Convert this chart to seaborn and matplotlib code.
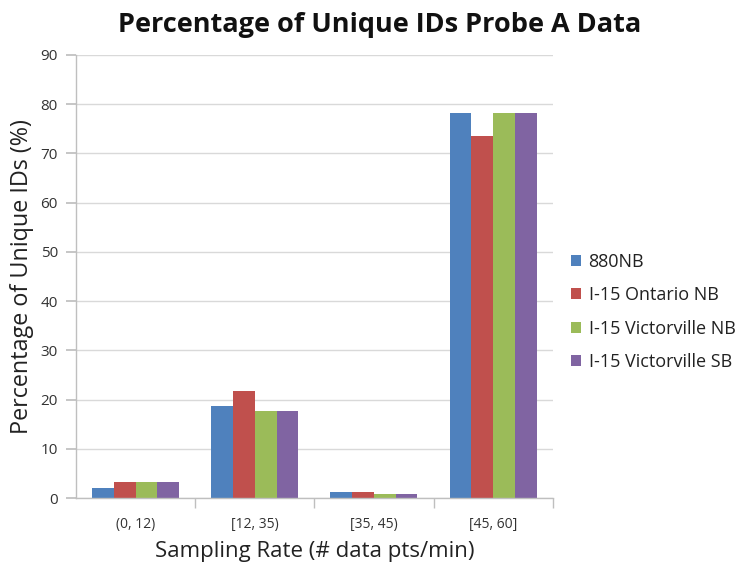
import matplotlib
matplotlib.use("Agg")
import matplotlib.pyplot as plt
import seaborn as sns
import pandas as pd
import numpy as np

categories = ["(0, 12)", "[12, 35)", "[35, 45)", "[45, 60]"]
series = ["880NB", "I-15 Ontario NB", "I-15 Victorville NB", "I-15 Victorville SB"]
v_880nb = [2.0, 18.7, 1.15, 78.2]
v_ontario_nb = [3.25, 21.8, 1.15, 73.6]
v_victor_nb = [3.25, 17.7, 0.75, 78.2]
v_victor_sb = [3.25, 17.7, 0.75, 78.2]
colors = ["#4F81BD", "#C0504D", "#9BBB59", "#8064A2"]

rows = []
for s, vals in zip(series, [v_880nb, v_ontario_nb, v_victor_nb, v_victor_sb]):
    for c, v in zip(categories, vals):
        rows.append({"cat": c, "series": s, "value": v})
df = pd.DataFrame(rows)

sns.set_theme(style="white")
plt.rcParams["font.family"] = ["Open Sans", "DejaVu Sans"]

fig = plt.figure(figsize=(7.49, 5.64), dpi=100)
ax = fig.add_axes([0.1015, 0.117, 0.6365, 0.7855])

sns.barplot(data=df, x="cat", y="value", hue="series", order=categories,
            hue_order=series, palette=colors, width=0.73, gap=0,
            saturation=1, ax=ax, legend=True, errorbar=None, linewidth=0)

ax.set_ylim(0, 90)
ax.set_xlim(-0.5, 3.5)
ax.set_yticks(np.arange(0, 91, 10))
ax.yaxis.grid(True, color="#D9D9D9", linewidth=1)
ax.set_axisbelow(True)
for s in ["top", "right"]:
    ax.spines[s].set_visible(False)
for s in ["left", "bottom"]:
    ax.spines[s].set_color("#BFBFBF")
    ax.spines[s].set_linewidth(1)
ax.tick_params(axis="y", left=True, length=7, color="#BFBFBF", labelsize=11,
               labelcolor="#333333", pad=6)
ax.tick_params(axis="x", bottom=False, labelsize=10, labelcolor="#333333", pad=8)
ax.set_xticks([0.5, 1.5, 2.5, 3.5], minor=True)
ax.tick_params(axis="x", which="minor", bottom=True, length=7, color="#BFBFBF")

ax.set_xlabel("Sampling Rate (# data pts/min)", fontsize=16, color="#222222", labelpad=6)
ax.set_ylabel("Percentage of Unique IDs (%)", fontsize=16.8, color="#222222", labelpad=5)
fig.suptitle("Percentage of Unique IDs Probe A Data", fontsize=19.5, fontweight="bold",
             x=0.507, y=0.978, color="#111111")

leg = ax.legend(loc="center left", bbox_to_anchor=(1.005, 0.42), frameon=False,
                fontsize=13, handlelength=0.55, handleheight=0.55, handletextpad=0.4,
                labelspacing=0.85)
for t in leg.get_texts():
    t.set_color("#222222")

fig.savefig("out.png", dpi=100)
